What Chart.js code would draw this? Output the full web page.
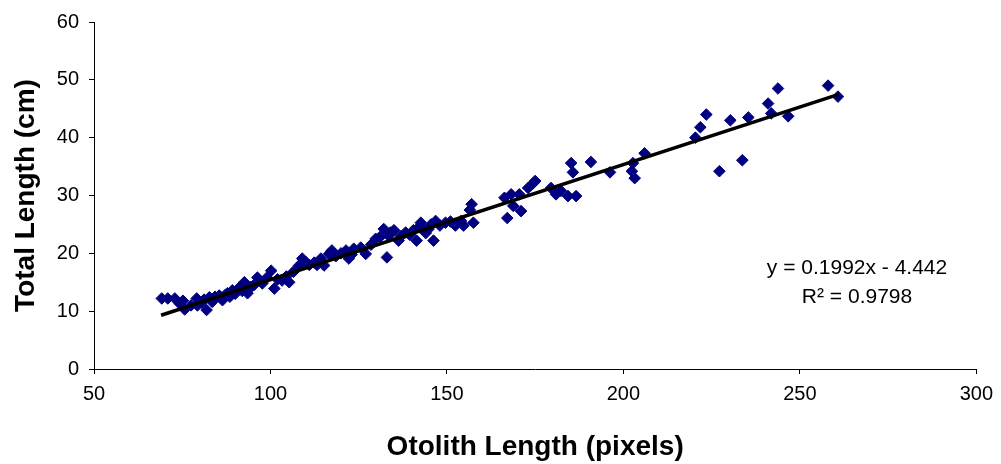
<!DOCTYPE html>
<html>
<head>
<meta charset="utf-8">
<script src="https://cdn.jsdelivr.net/npm/chart.js@4.4.0/dist/chart.umd.min.js"></script>
<style>
html,body{margin:0;padding:0;background:#fff;}
#wrap{width:1001px;height:464px;position:relative;}
</style>
</head>
<body>
<div id="wrap"><canvas id="c" width="1001" height="464"></canvas></div>
<script>
// Otolith length (pixels)
const otolithLength = [
  69.2,70.9,72.9,74.3,75.2,75.7,77.5,79.1,79.3,80.5,81.2,81.9,82.7,83.5,84.3,85.5,86.4,86.0,87.2,87.8,
  88.5,89.2,90.0,91.2,92.0,92.6,93.5,94.5,95.3,96.3,97.7,99.0,100.2,101.1,102.0,103.3,104.5,105.3,106.5,108.1,
  109.0,110.0,111.0,112.4,113.2,114.3,115.2,116.6,117.4,118.5,120.0,121.4,122.2,123.0,123.6,125.6,127.0,128.5,129.8,131.0,
  132.1,133.0,133.5,134.0,135.0,136.3,137.0,138.3,139.5,140.5,141.4,142.0,142.6,143.4,144.0,144.8,145.5,146.2,146.8,148.0,
  149.6,151.0,152.4,154.0,154.7,157.0,157.5,156.5,
  166.3,167.1,168.2,168.8,170.5,171.0,173.0,174.4,175.0,179.5,180.9,182.3,184.3,185.2,185.7,186.6,190.8,196.2,202.4,202.7,
  203.2,206.0,220.4,221.8,223.5,227.2,230.3,233.7,235.4,241.0,241.9,243.8,246.7,258.0,260.8
];
// Total length (cm)
const totalLength = [
  12.2,12.2,12.2,11.3,11.8,10.3,11.0,12.2,11.0,11.5,12.0,10.2,12.4,11.6,12.5,12.7,11.9,12.3,12.8,13.1,
  12.5,13.6,13.0,14.1,13.5,15.0,13.1,14.2,14.5,15.8,14.8,15.8,17.0,13.9,15.5,15.3,16.0,15.0,16.8,17.9,
  19.1,18.5,18.0,18.4,18.0,19.1,17.9,19.9,20.5,19.5,20.0,20.5,19.1,19.8,20.8,21.0,19.9,21.5,22.5,22.8,
  24.2,19.3,23.0,23.6,24.0,22.2,23.0,23.6,23.2,24.0,22.2,24.5,25.3,24.2,23.5,24.2,25.0,22.2,25.6,24.8,
  25.3,25.5,24.8,25.6,24.8,28.5,25.3,27.5,
  29.6,26.1,30.2,28.2,30.2,27.3,31.3,32.1,32.5,31.3,30.2,30.8,29.9,35.6,34.0,29.9,35.8,34.0,34.2,35.6,
  33.0,37.3,40.0,41.8,44.0,34.2,43.0,36.1,43.5,45.9,44.2,48.5,43.7,49.0,47.1
];
// Linear trendline end points (x, y)
const trendX = [69, 261];
const trendY = [9.3, 47.5];
const equationLines = ['y = 0.1992x - 4.442', 'R\u00B2 = 0.9798'];
const xTicks = [50, 100, 150, 200, 250, 300];
const yTicks = [0, 10, 20, 30, 40, 50, 60];

const points = otolithLength.map((x, i) => ({x: x, y: totalLength[i]}));
const trend = trendX.map((x, i) => ({x: x, y: trendY[i]}));

const equationPlugin = {
  id: 'equation',
  afterDatasetsDraw(chart) {
    const ctx = chart.ctx;
    const xs = chart.scales.x, ys = chart.scales.y;
    ctx.save();
    ctx.fillStyle = '#000';
    ctx.font = '21px "Liberation Sans", Arial, sans-serif';
    ctx.textAlign = 'center';
    ctx.textBaseline = 'middle';
    const cx = xs.getPixelForValue(266.2);
    ctx.fillText(equationLines[0], cx, ys.getPixelForValue(17.5));
    ctx.fillText(equationLines[1], cx, ys.getPixelForValue(12.4));
    ctx.restore();
  }
};

new Chart(document.getElementById('c'), {
  type: 'scatter',
  data: {
    datasets: [
      {
        type: 'line',
        data: trend,
        borderColor: '#000',
        borderWidth: 3.5,
        pointRadius: 0,
        fill: false,
        tension: 0
      },
      {
        data: points,
        pointStyle: 'rectRot',
        pointRadius: 5.8,
        pointBackgroundColor: '#000080',
        pointBorderColor: '#000080',
        pointBorderWidth: 1
      }
    ]
  },
  options: {
    responsive: false,
    animation: false,
    devicePixelRatio: 1,
    layout: {padding: {top: 20, right: 21, left: 0, bottom: 0}},
    plugins: {legend: {display: false}, tooltip: {enabled: false}},
    scales: {
      x: {
        type: 'linear',
        min: 50, max: 300,
        afterBuildTicks: s => { s.ticks = xTicks.map(v => ({value: v})); },
        afterFit: s => { s.height = 95; },
        grid: {drawOnChartArea: false, drawTicks: true, tickLength: 5, color: '#000'},
        border: {color: '#000', width: 1},
        ticks: {color: '#000', padding: 8, font: {family: '"Liberation Sans", Arial, sans-serif', size: 20}, maxRotation: 0},
        title: {display: true, text: 'Otolith Length (pixels)', color: '#000',
          font: {family: '"Liberation Sans", Arial, sans-serif', size: 28, weight: 'bold'}, padding: {top: -3, bottom: 0}}
      },
      y: {
        type: 'linear',
        min: 0, max: 60,
        afterBuildTicks: s => { s.ticks = yTicks.map(v => ({value: v})); },
        afterFit: s => { s.width = 94; },
        grid: {drawOnChartArea: false, drawTicks: true, tickLength: 5, color: '#000'},
        border: {color: '#000', width: 1},
        ticks: {color: '#000', padding: 10, font: {family: '"Liberation Sans", Arial, sans-serif', size: 20}},
        title: {display: true, text: 'Total Length (cm)', color: '#000',
          font: {family: '"Liberation Sans", Arial, sans-serif', size: 28, weight: 'bold'}, padding: {top: 9, bottom: 0}}
      }
    }
  },
  plugins: [equationPlugin]
});
</script>
</body>
</html>
